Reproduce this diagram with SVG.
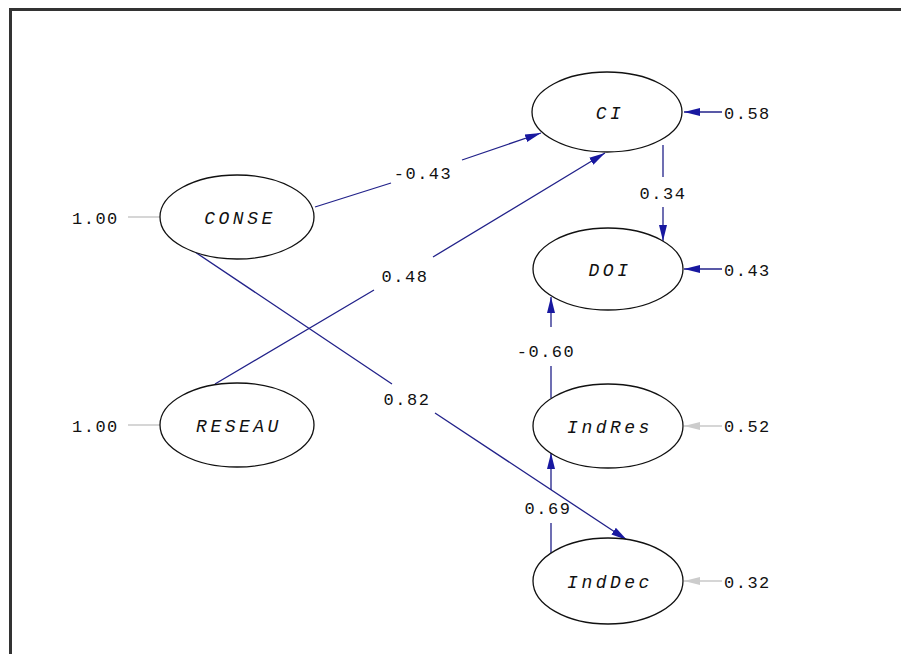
<svg xmlns="http://www.w3.org/2000/svg" width="901" height="654" viewBox="0 0 901 654">
<style>
.n ellipse{fill:#fff;stroke:#111;stroke-width:1.3}
.nl{font-family:"Liberation Mono",monospace;font-style:italic;font-size:18px;letter-spacing:3.5px;text-anchor:middle;fill:#111}
.v{font-family:"Liberation Mono",monospace;font-size:17px;letter-spacing:1.5px;fill:#111}
.c{text-anchor:middle}
.e{stroke:#22228a;stroke-width:1.3;fill:none}
.g{stroke:#c8c8c8;stroke-width:1.5;fill:none}
</style>
<defs>
<marker id="a" markerUnits="userSpaceOnUse" markerWidth="18" markerHeight="10" refX="16" refY="5" orient="auto"><path d="M0,1 L16,5 L0,9 z" fill="#1818a0"/></marker>
<marker id="ag" markerUnits="userSpaceOnUse" markerWidth="18" markerHeight="10" refX="16" refY="5" orient="auto"><path d="M0,1 L16,5 L0,9 z" fill="#cccccc"/></marker>
</defs>
<rect width="901" height="654" fill="#fff"/>
<path d="M10.5,654 V9.5 H901" fill="none" stroke="#333" stroke-width="3"/>
<g id="connectors">
<path class="e" d="M315,207 L391,183 M462,160 L541,133" marker-end="url(#a)"/>
<path class="e" d="M215,384 L374,290 M433,257 L605,153" marker-end="url(#a)"/>
<path class="e" d="M195,252 L392,384 M435,413 L627,540" marker-end="url(#a)"/>
<path class="e" d="M663,145 L663,177 M663,207 L663,241" marker-end="url(#a)"/>
<path class="e" d="M551,398 L551,366 M551,327 L551,297" marker-end="url(#a)"/>
<path class="e" d="M551,553 L551,523 M551,490 L551,453" marker-end="url(#a)"/>
<path class="e" d="M722,112 L684,112" marker-end="url(#a)"/>
<path class="e" d="M722,269 L684,269" marker-end="url(#a)"/>
<path class="g" d="M722,426 L684,426" marker-end="url(#ag)"/>
<path class="g" d="M722,581 L684,581" marker-end="url(#ag)"/>
<path class="g" d="M128,217 L160,217"/>
<path class="g" d="M128,425 L160,425"/>
<text class="v c" x="423" y="179">-0.43</text>
<text class="v c" x="405" y="282">0.48</text>
<text class="v c" x="407" y="405">0.82</text>
<text class="v c" x="663" y="199">0.34</text>
<text class="v c" x="546" y="357">-0.60</text>
<text class="v c" x="548" y="514">0.69</text>
<text class="v" x="724" y="119">0.58</text>
<text class="v" x="724" y="276">0.43</text>
<text class="v" x="724" y="432">0.52</text>
<text class="v" x="724" y="588">0.32</text>
<text class="v" x="72" y="224">1.00</text>
<text class="v" x="72" y="432">1.00</text>
</g>
<g id="CONSE" class="n"><ellipse cx="237" cy="217" rx="77" ry="42"/><text class="nl" x="240" y="224">CONSE</text></g>
<g id="RESEAU" class="n"><ellipse cx="237" cy="425" rx="77" ry="42"/><text class="nl" x="239" y="432">RESEAU</text></g>
<g id="CI" class="n"><ellipse cx="607" cy="112" rx="75" ry="40"/><text class="nl" x="610" y="119">CI</text></g>
<g id="DOI" class="n"><ellipse cx="608" cy="269" rx="75" ry="41"/><text class="nl" x="610" y="276">DOI</text></g>
<g id="IndRes" class="n"><ellipse cx="608" cy="426" rx="75" ry="42"/><text class="nl" x="610" y="433">IndRes</text></g>
<g id="IndDec" class="n"><ellipse cx="608" cy="581" rx="75" ry="43"/><text class="nl" x="610" y="588">IndDec</text></g>
</svg>
